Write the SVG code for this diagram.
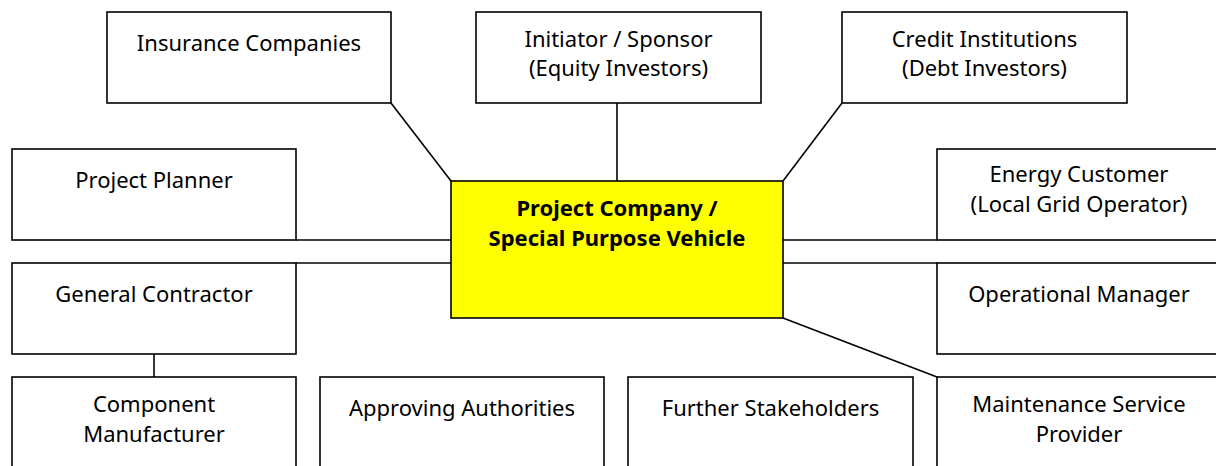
<svg xmlns="http://www.w3.org/2000/svg" width="1216" height="466" viewBox="0 0 1216 466">
  <style>
    .box { fill: #ffffff; stroke: #000000; stroke-width: 1.6; }
    .core { fill: #ffff00; stroke: #000000; stroke-width: 1.6; }
    .lbl { font-family: "Noto Sans", "Open Sans", "DejaVu Sans", sans-serif; font-size: 22px; fill: #000000; text-anchor: middle; }
    .bold { font-weight: bold; }
    .link { stroke: #000000; stroke-width: 1.6; fill: none; }
  </style>
  <rect width="1216" height="466" fill="#ffffff"/>

  <!-- connectors between the project company and its partners -->
  <g id="connectors">
    <line class="link" x1="391" y1="103" x2="451" y2="181"/>
    <line class="link" x1="617" y1="103" x2="617" y2="181"/>
    <line class="link" x1="842" y1="103" x2="783" y2="181"/>
    <line class="link" x1="296" y1="240" x2="451" y2="240"/>
    <line class="link" x1="296" y1="263" x2="451" y2="263"/>
    <line class="link" x1="783" y1="240" x2="937" y2="240"/>
    <line class="link" x1="783" y1="263" x2="937" y2="263"/>
    <line class="link" x1="783" y1="318" x2="937" y2="377"/>
    <line class="link" x1="154" y1="354" x2="154" y2="377"/>
  </g>

  <!-- top row -->
  <g id="insurance">
    <rect class="box" x="107" y="12" width="284" height="91"/>
    <text class="lbl" x="249" y="51">Insurance Companies</text>
  </g>
  <g id="sponsor">
    <rect class="box" x="476" y="12" width="285" height="91"/>
    <text class="lbl" x="618.5" y="47">Initiator / Sponsor</text>
    <text class="lbl" x="618.5" y="76">(Equity Investors)</text>
  </g>
  <g id="credit">
    <rect class="box" x="842" y="12" width="285" height="91"/>
    <text class="lbl" x="984.5" y="47">Credit Institutions</text>
    <text class="lbl" x="984.5" y="76">(Debt Investors)</text>
  </g>

  <!-- left column -->
  <g id="planner">
    <rect class="box" x="12" y="149" width="284" height="91"/>
    <text class="lbl" x="154" y="188">Project Planner</text>
  </g>
  <g id="contractor">
    <rect class="box" x="12" y="263" width="284" height="91"/>
    <text class="lbl" x="154" y="302">General Contractor</text>
  </g>

  <!-- central vehicle -->
  <g id="spv">
    <rect class="core" x="451" y="181" width="332" height="137"/>
    <text class="lbl bold" x="617" y="216">Project Company /</text>
    <text class="lbl bold" x="617" y="246">Special Purpose Vehicle</text>
  </g>

  <!-- right column -->
  <g id="customer">
    <rect class="box" x="937" y="149" width="284" height="91"/>
    <text class="lbl" x="1079" y="182">Energy Customer</text>
    <text class="lbl" x="1079" y="212">(Local Grid Operator)</text>
  </g>
  <g id="operator">
    <rect class="box" x="937" y="263" width="284" height="91"/>
    <text class="lbl" x="1079" y="302">Operational Manager</text>
  </g>

  <!-- bottom row -->
  <g id="manufacturer">
    <rect class="box" x="12" y="377" width="284" height="91"/>
    <text class="lbl" x="154" y="412">Component</text>
    <text class="lbl" x="154" y="442">Manufacturer</text>
  </g>
  <g id="authorities">
    <rect class="box" x="320" y="377" width="284" height="91"/>
    <text class="lbl" x="462" y="416">Approving Authorities</text>
  </g>
  <g id="stakeholders">
    <rect class="box" x="628" y="377" width="285" height="91"/>
    <text class="lbl" x="770.5" y="416">Further Stakeholders</text>
  </g>
  <g id="maintenance">
    <rect class="box" x="937" y="377" width="284" height="91"/>
    <text class="lbl" x="1079" y="412">Maintenance Service</text>
    <text class="lbl" x="1079" y="442">Provider</text>
  </g>
</svg>
